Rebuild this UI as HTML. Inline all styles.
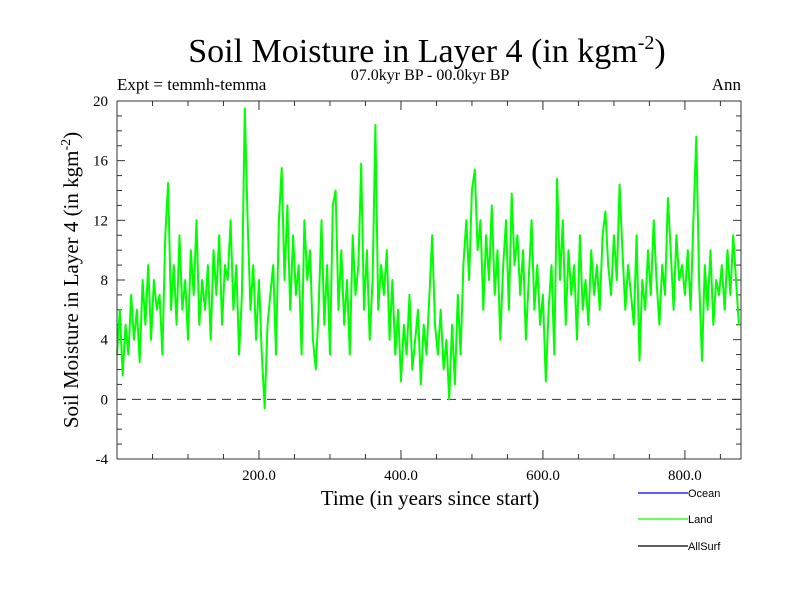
<!DOCTYPE html>
<html><head><meta charset="utf-8"><style>
body{margin:0;background:#fff}
svg text{font-family:"Liberation Serif",serif;fill:#000}
</style></head><body>
<svg id="chart" width="800" height="600" xmlns="http://www.w3.org/2000/svg">
<text x="427" y="62" font-size="34" text-anchor="middle">Soil Moisture in Layer 4 (in kgm<tspan font-size="20" dy="-13">-2</tspan><tspan dy="13">)</tspan></text>
<text x="117" y="90" font-size="17">Expt = temmh-temma</text>
<text x="430" y="80" font-size="16" text-anchor="middle">07.0kyr BP - 00.0kyr BP</text>
<text x="741" y="90" font-size="17" text-anchor="end">Ann</text>
<text transform="translate(78,280) rotate(-90)" font-size="21" text-anchor="middle">Soil Moisture in Layer 4 (in kgm<tspan font-size="14" dy="-8">-2</tspan><tspan dy="8">)</tspan></text>
<text x="430" y="505" font-size="21" text-anchor="middle">Time (in years since start)</text>
<g id="axes"></g>
<g id="series"></g>
<rect x="117" y="101" width="624" height="358" fill="none" stroke="#333" stroke-width="1"/>
<g>
<line x1="638" y1="493" x2="688" y2="493" stroke="#0000ff" stroke-width="1.3"/>
<text x="688" y="497" font-size="11" style="font-family:'Liberation Sans',sans-serif">Ocean</text>
<line x1="638" y1="519" x2="688" y2="519" stroke="#00ff00" stroke-width="1.3"/>
<text x="688" y="523" font-size="11" style="font-family:'Liberation Sans',sans-serif">Land</text>
<line x1="638" y1="546" x2="688" y2="546" stroke="#000" stroke-width="1.3"/>
<text x="688" y="550" font-size="11" style="font-family:'Liberation Sans',sans-serif">AllSurf</text>
</g>
</svg>
<script>
const yTicks=[-4,0,4,8,12,16,20];
const xTicks=[200,400,600,800];
const xTickLabels=["200.0","400.0","600.0","800.0"];
const step=4;
const landValues=[
3,6,1.6,5,3,7,4,6,2.5,8,
5,9,4,8,6,7,3,11,14.5,6,
9,5,11,6,8,4,10,7,12,5,
8,6,9,4,10,7,11,5,9,8,
12,6,9,3,7,19.5,12,6,9,4,
8,3,-0.6,5,7,9,3,12,15.5,8,
13,6,11,7,9,3,12,8,10,4,
2,6,12,5,9,3,13,14,6,10,
5,8,3,11,7,9,15.8,6,10,4,
8,18.4,6,9,7,10,4,8,3,6,
1.2,5,3,7,2,4,6,1,5,3,
7,11,5,3,6,2,4,0,5,1,
7,3,9,12,8,14,15.4,10,12,6,
11,8,13,7,10,4,9,12,6,13.8,
9,11,7,10,4,8,12,6,9,5,
7,1.2,6,9,3,14.8,8,12,5,10,
7,9,4,11,6,8,5,10,7,9,
6,11,12.6,9,7,11,8,14.4,10,6,
9,7,5,11,2.6,8,6,10,7,12,
8,5,9,7,13.5,10,6,11,8,9,
7,10,6,12,17.6,8,2.6,9,6,10,
5,8,7,9,6,10,7,11,8,5];
const X0=117,X1=741,Y0=459,Y1=101,xMax=879,yMin=-4,yMax=20;
const sx=v=>X0+(v/xMax)*(X1-X0);
const sy=v=>Y0-(v-yMin)/(yMax-yMin)*(Y0-Y1);
const NS="http://www.w3.org/2000/svg";
const axes=document.getElementById('axes');
function mk(tag,attrs,parent){const e=document.createElementNS(NS,tag);for(const k in attrs)e.setAttribute(k,attrs[k]);parent.appendChild(e);return e;}
for(let v=yMin;v<=yMax;v++){
  const L=(v%4===0)?8:5;
  const a=mk('line',{x1:X0,x2:X0+L,y1:sy(v),y2:sy(v),stroke:'#333'},axes);
  
  
  const b=mk('line',{x1:X1-L,x2:X1,y1:sy(v),y2:sy(v),stroke:'#333'},axes);
  
  
}
yTicks.forEach(v=>{
  const t=mk('text',{x:108,y:sy(v)+5,'font-size':15,'text-anchor':'end'},axes);
  t.textContent=v;
  
  
});
for(let v=50;v<xMax;v+=50){
  const L=(v%200===0)?9:5;
  const a=mk('line',{x1:sx(v),x2:sx(v),y1:Y0,y2:Y0-L,stroke:'#333'},axes);
  
  
  const b=mk('line',{x1:sx(v),x2:sx(v),y1:Y1,y2:Y1+L,stroke:'#333'},axes);
  
  
}
xTicks.forEach((v,i)=>{
  const t=mk('text',{x:sx(v),y:480,'font-size':15,'text-anchor':'middle'},axes);
  t.textContent=xTickLabels[i];
  
  
});
const z=mk('line',{x1:X0,x2:X1,y1:sy(0),y2:sy(0),stroke:'#333','stroke-dasharray':'9,6'},axes);


const pts=landValues.map((v,i)=>sx(i*step).toFixed(1)+','+sy(v).toFixed(1)).join(' ');
const pl=mk('polyline',{points:pts,fill:'none',stroke:'#00ff00','stroke-width':2,'stroke-linejoin':'round'},document.getElementById('series'));


</script>
</body></html>
